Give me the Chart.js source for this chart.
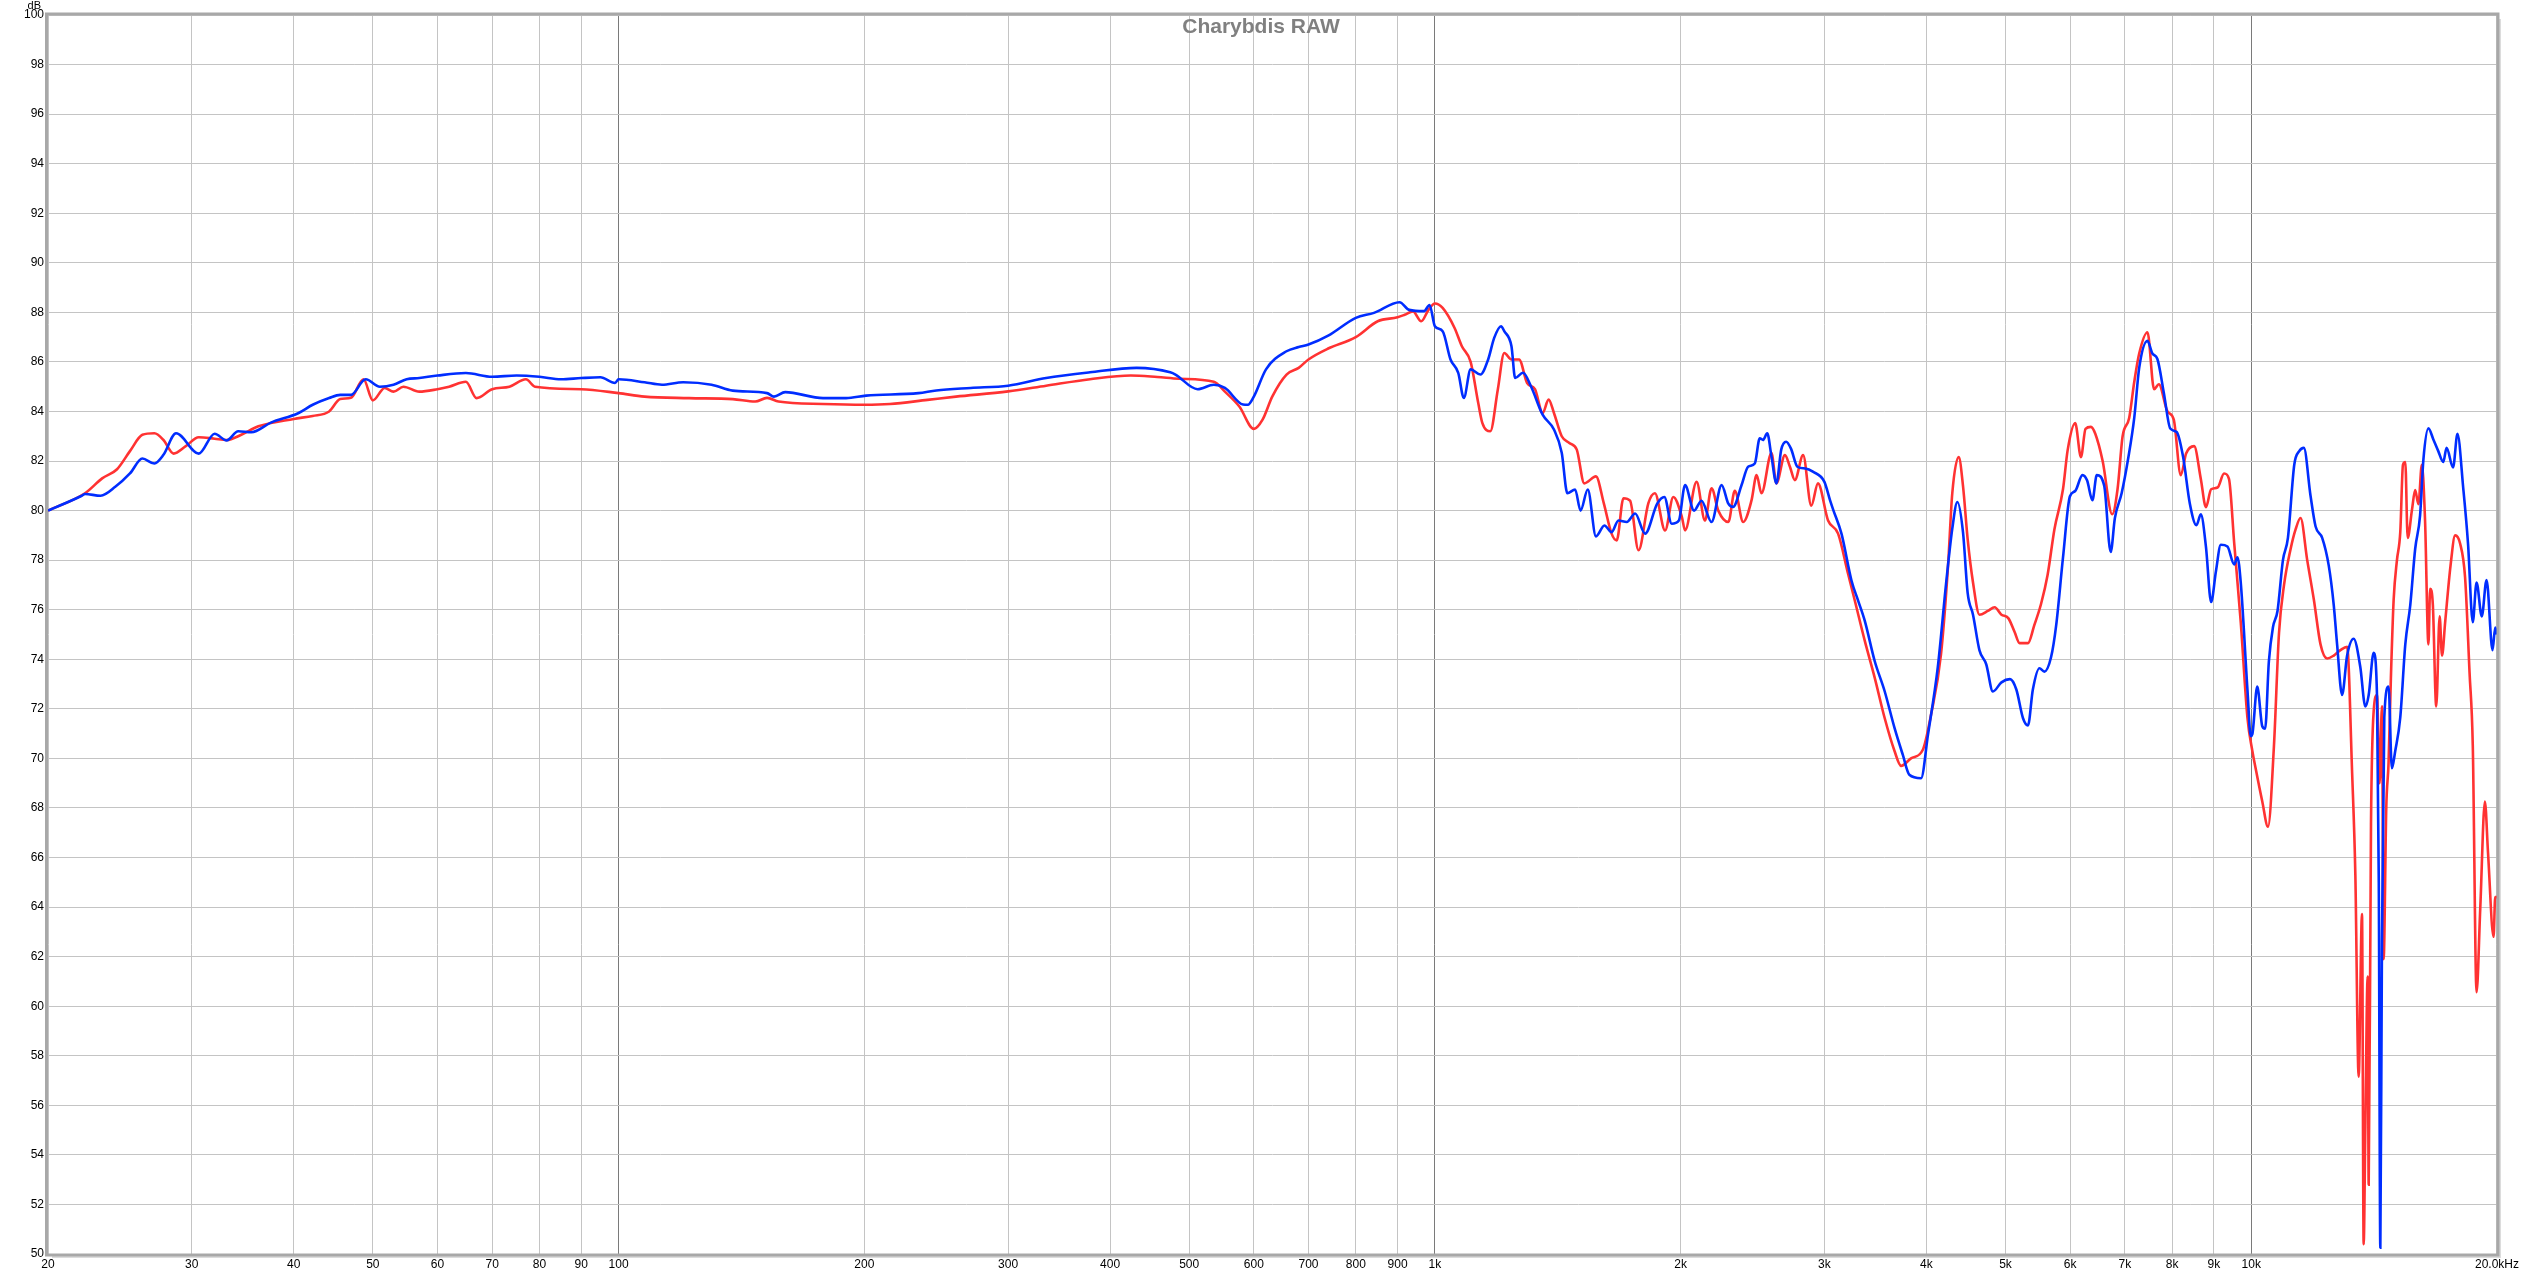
<!DOCTYPE html>
<html>
<head>
<meta charset="utf-8">
<script src="https://cdn.jsdelivr.net/npm/chart.js@4.4.1/dist/chart.umd.min.js"></script>
<style>
html,body{margin:0;padding:0;background:#fff;overflow:hidden;}
canvas{display:block;}
</style>
</head>
<body>
<canvas id="c" width="2522" height="1275"></canvas>
<script>
const chartTitle = "Charybdis RAW";
const yUnit = "dB";
const tickFreqs = [20,30,40,50,60,70,80,90,100,200,300,400,500,600,700,800,900,1000,2000,3000,4000,5000,6000,7000,8000,9000,10000,20000];
const tickLabels = ["20","30","40","50","60","70","80","90","100","200","300","400","500","600","700","800","900","1k","2k","3k","4k","5k","6k","7k","8k","9k","10k","20.0kHz"];

const freqBlue = [20,22,22.2,23.2,24.2,25.2,26.1,27,27.7,28.7,30.6,32,33.1,34.2,35.5,37.5,40.5,42.2,44.2,45.6,47,49,51,53,55,57,60,65,70,75,80,85,90,95,99,100,107.6,113,120,130,138,152,155,160,178,190,201,233,245,270,300,334,378,431,474,481,512,536,553,582,590,600,621,658,681,700,740,800,842,905,930,970,985,1000,1022,1045,1068,1085,1106,1137,1162,1182,1205,1216,1241,1254,1282,1311,1355,1399,1430,1453,1485,1508,1539,1575,1613,1646,1678,1718,1759,1809,1872,1910,1950,1990,2025,2077,2121,2182,2245,2288,2319,2375,2419,2465,2500,2523,2553,2584,2620,2656,2693,2730,2780,2843,2904,3000,3049,3078,3148,3238,3300,3362,3457,3555,3656,3742,3812,3940,4018,4130,4228,4303,4365,4435,4494,4562,4646,4735,4825,4943,5063,5155,5253,5327,5401,5502,5579,5685,5768,5880,5995,6086,6212,6293,6389,6468,6605,6727,6807,6939,7072,7189,7290,7462,7567,7674,7815,7958,8104,8252,8410,8568,8674,8800,8930,9051,9177,9350,9530,9618,9708,9892,9986,10031,10170,10316,10400,10510,10630,10770,10935,11090,11290,11450,11600,11820,11990,12215,12445,12620,12740,12920,13105,13350,13600,13796,13927,14124,14257,14330,14392,14458,14554,14731,14868,15010,15225,15442,15660,15878,16100,16252,16484,16714,16948,17187,17350,17670,17890,18180,18430,18680,18880,19160,19420,19750,19900,20000];
const dbBlue = [80.0,80.6,80.67,80.6,80.97,81.5,82.1,81.9,82.25,83.12,82.3,83.1,82.83,83.2,83.16,83.55,83.93,84.27,84.54,84.67,84.67,85.3,85.0,85.08,85.3,85.35,85.45,85.55,85.4,85.45,85.4,85.3,85.35,85.38,85.15,85.3,85.18,85.08,85.18,85.08,84.84,84.74,84.6,84.78,84.54,84.54,84.64,84.74,84.85,84.95,85.04,85.35,85.58,85.76,85.58,85.49,84.9,85.08,84.95,84.28,84.27,84.6,85.7,86.43,86.6,86.7,87.06,87.78,87.98,88.41,88.1,88.05,88.3,87.44,87.24,86.1,85.56,84.55,85.7,85.49,86.1,86.97,87.44,87.24,86.63,85.35,85.56,85.02,83.87,83.27,82.33,80.7,80.85,80.0,80.85,78.96,79.4,79.13,79.6,79.54,79.88,79.07,80.28,80.55,79.47,79.6,81.03,80.0,80.4,79.54,81.03,80.28,80.15,81.03,81.77,81.9,82.92,82.85,83.12,82.18,81.1,82.46,82.78,82.5,81.77,81.7,81.57,81.16,80.4,80.0,79.07,77.18,76.36,75.55,73.93,72.72,71.23,70.15,69.34,69.2,70.96,73.66,77.04,79.27,80.35,79.13,76.67,75.8,74.36,73.8,72.7,73.07,73.2,72.78,71.62,71.33,72.78,73.64,73.5,74.08,75.37,78.1,80.57,80.79,81.43,81.22,80.42,81.43,81.0,78.33,79.7,80.71,82.16,83.74,85.76,86.85,86.34,86.12,84.75,83.31,83.17,82.16,80.28,79.41,79.85,78.55,76.31,77.54,78.62,78.55,77.83,78.12,77.1,72.8,70.9,70.98,72.9,71.3,71.2,73.92,75.28,75.96,78.0,78.9,81.85,82.4,82.53,80.6,79.36,78.9,77.77,76.19,74.6,72.56,74.15,74.83,73.7,72.1,72.56,74.26,72.56,65.0,50.25,62.6,71.66,72.9,69.6,70.3,71.66,74.6,76.19,78.45,79.81,82.07,83.32,82.87,82.4,81.96,82.53,81.74,83.1,80.94,78.68,75.5,77.1,75.73,77.2,74.37,75.28,75.0];

const freqRed = [20,22.2,23.3,24.3,25.2,26.1,27,27.7,28.5,29.5,30.6,32,33.1,34.5,36.2,40,42.2,44.2,45.6,47,48.7,50,51.7,53,54.5,57,60,62,65,67,70,73.5,77,79,90,100,107.6,122,138,147,152,157,178,200,215,239,259,300,334,378,424,457,486,536,553,576,600,615,632,658,681,700,740,800,851,900,918,940,962,982,1000,1022,1057,1079,1106,1130,1143,1169,1194,1216,1241,1268,1297,1326,1355,1378,1399,1430,1461,1492,1524,1575,1610,1646,1670,1702,1734,1776,1826,1860,1914,1959,2007,2025,2092,2142,2182,2224,2288,2330,2386,2442,2478,2512,2584,2620,2684,2722,2760,2825,2891,2946,3031,3118,3207,3269,3362,3457,3555,3656,3724,3830,3960,4053,4168,4250,4303,4382,4435,4494,4562,4646,4757,4849,4943,5039,5130,5203,5327,5422,5528,5630,5740,5880,5958,6086,6186,6266,6362,6441,6576,6756,6858,6957,7087,7189,7290,7462,7603,7705,7895,8037,8198,8321,8512,8674,8800,8930,9093,9262,9391,9530,9708,9892,10031,10124,10316,10484,10661,10814,10969,11174,11332,11492,11710,11932,12158,12388,12620,12860,13105,13292,13413,13538,13667,13731,13796,13887,13927,14018,14124,14257,14364,14458,14527,14635,14731,14827,14943,15083,15225,15341,15442,15546,15737,15878,16024,16180,16328,16484,16563,16690,16851,17013,17128,17280,17540,17775,18020,18279,18510,18680,18880,19078,19330,19500,19808,19900,20000];
const dbRed = [80.0,80.7,81.3,81.67,82.4,83.06,83.12,82.85,82.3,82.6,82.96,82.9,82.85,83.06,83.4,83.7,83.82,84.0,84.5,84.55,85.3,84.45,84.95,84.8,85.0,84.8,84.9,85.0,85.2,84.54,84.9,85.0,85.3,85.0,84.9,84.74,84.6,84.54,84.5,84.4,84.55,84.4,84.3,84.27,84.3,84.47,84.6,84.81,85.04,85.3,85.45,85.39,85.32,85.2,84.8,84.2,83.3,83.67,84.6,85.49,85.76,86.1,86.54,87.0,87.64,87.8,87.9,88.04,87.64,88.1,88.36,88.18,87.37,86.63,86.0,84.34,83.54,83.2,84.88,86.36,86.1,86.1,85.15,84.9,83.94,84.48,83.94,83.0,82.73,82.46,81.1,81.38,80.3,79.07,78.8,80.5,80.4,78.4,80.3,80.7,79.2,80.55,79.74,79.2,81.16,79.6,80.9,80.0,79.54,80.8,79.54,80.4,81.43,80.7,82.32,81.1,82.24,81.77,81.23,82.24,80.2,81.1,79.6,79.07,77.45,76.36,74.74,73.26,71.64,70.3,69.7,70.0,70.35,71.77,74.2,77.68,80.7,82.16,81.0,78.84,77.1,75.8,75.95,76.1,75.8,75.66,75.1,74.65,74.65,75.37,76.24,77.4,79.25,80.86,82.44,83.53,82.16,83.3,83.38,83.1,82.0,79.85,80.86,83.0,83.74,85.19,86.34,87.2,84.9,85.1,84.0,83.67,81.43,82.3,82.6,81.28,80.14,80.86,80.93,81.5,81.28,78.7,75.5,71.66,70.3,69.6,68.26,67.24,70.5,75.05,77.0,78.45,79.24,79.7,78.0,76.4,74.6,74.03,74.15,74.37,74.5,69.4,65.3,57.16,63.72,50.4,55.1,61.2,52.8,67.35,71.9,72.56,69.0,72.1,61.9,68.0,69.84,73.24,76.4,78.0,79.13,81.85,81.96,78.9,80.04,80.83,80.26,81.85,79.58,74.6,76.84,76.2,72.1,75.73,74.15,75.5,77.75,79.0,78.68,77.3,73.47,70.52,60.56,63.95,68.26,66.2,62.8,64.4,64.4];

function pts(fs, ds){ return fs.map((f,i)=>({x:f, y:ds[i]})); }

const framePlugin = {
  id: 'frame',
  afterDraw(chart){
    const {ctx, chartArea:a} = chart;
    ctx.save();
    ctx.strokeStyle = '#dcdcdc';
    ctx.lineWidth = 2;
    ctx.beginPath();
    ctx.moveTo(a.right+3, a.top+4); ctx.lineTo(a.right+3, a.bottom+3); ctx.lineTo(a.left+4, a.bottom+3);
    ctx.stroke();
    ctx.strokeStyle = '#a8a8a8';
    ctx.lineWidth = 3;
    ctx.strokeRect(a.left-1.5, a.top-1, a.right-a.left+2.5, a.bottom-a.top+2);
    ctx.fillStyle = '#808080';
    ctx.font = 'bold 21px "Liberation Sans", Arial, sans-serif';
    ctx.textAlign = 'center';
    ctx.textBaseline = 'alphabetic';
    ctx.fillText(chartTitle, 1261, 33);
    ctx.fillStyle = '#000';
    ctx.font = '11px "Liberation Sans", Arial, sans-serif';
    ctx.textAlign = 'right';
    ctx.fillText(yUnit, 41, 9);
    ctx.restore();
  }
};

const decades = [100,1000,10000];
new Chart(document.getElementById('c'), {
  type: 'line',
  data: {
    datasets: [
      {label:'Blue', data: pts(freqBlue, dbBlue), borderColor:'rgb(0,45,255)', borderWidth:2.6, pointRadius:0, cubicInterpolationMode:'monotone', fill:false},
      {label:'Red', data: pts(freqRed, dbRed), borderColor:'rgb(255,50,50)', borderWidth:2.6, pointRadius:0, cubicInterpolationMode:'monotone', fill:false}
    ]
  },
  options: {
    responsive:false, animation:false, devicePixelRatio:1,
    layout:{padding:{top:15,right:22,left:0,bottom:0}},
    plugins:{legend:{display:false}, tooltip:{enabled:false}, title:{display:false}},
    scales:{
      x:{
        type:'logarithmic', min:20, max:20000,
        afterBuildTicks(s){ s.ticks = tickFreqs.map(v=>({value:v})); },
        afterFit(s){ s.height = 21; },
        ticks:{
          autoSkip:false, maxRotation:0, minRotation:0, padding:3,
          color:'#000', font:{family:'"Liberation Sans", Arial, sans-serif', size:12},
          callback(v){ const i = tickFreqs.indexOf(v); return i>=0 ? tickLabels[i] : ''; }
        },
        grid:{
          drawTicks:false, lineWidth:1,
          color(ctx){ const v = ctx.tick && ctx.tick.value; return decades.includes(v) ? '#7a7a7a' : '#c4c4c4'; }
        },
        border:{display:false}
      },
      y:{
        type:'linear', min:50, max:100,
        afterFit(s){ s.width = 48; },
        ticks:{stepSize:2, padding:4, color:'#000', font:{family:'"Liberation Sans", Arial, sans-serif', size:12}},
        grid:{drawTicks:false, color:'#c4c4c4', lineWidth:1},
        border:{display:false}
      }
    }
  },
  plugins:[framePlugin]
});
</script>
</body>
</html>
